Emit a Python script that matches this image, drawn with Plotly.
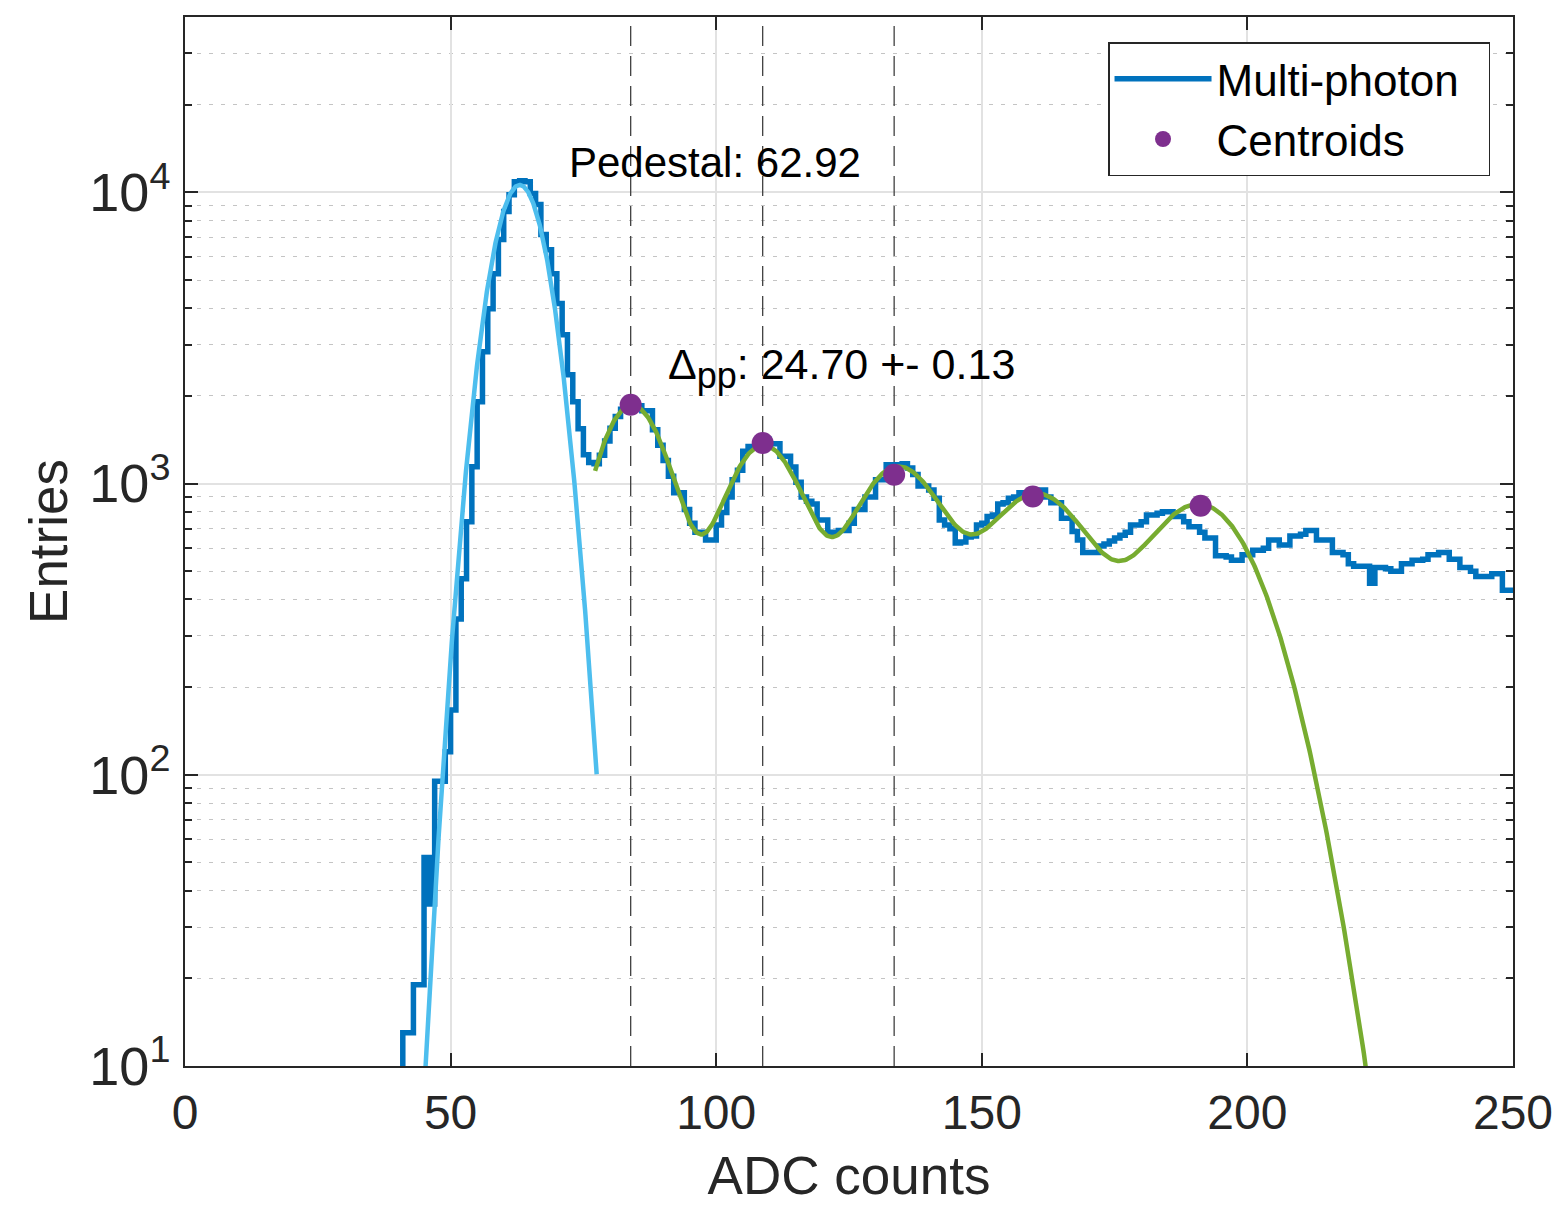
import numpy as np
import plotly.graph_objects as go

# ---------------- data ----------------
bin_start = 38
bin_width = 1
counts = [
    2, 4, 6, 13, 13, 19, 19, 52, 36, 95,            # 38-47
    95, 120, 167, 343, 471, 739, 1142, 1910, 2838, 3985,   # 48-57
    5258, 6883, 8590, 9820, 10880, 10950, 10880, 9900, 9080, 7160,  # 58-67
    6350, 5258, 4150, 3245, 2365, 1910, 1543, 1256, 1180, 1170,     # 68-77
    1250, 1400, 1550, 1700, 1800, 1870, 1880, 1850, 1780, 1780,     # 78-87
    1530, 1355, 1200, 1060, 930, 930, 815, 730, 680, 680,           # 88-97
    640, 640, 720, 795, 900, 1030, 1110, 1290, 1340, 1340,          # 98-107
    1420, 1420, 1370, 1370, 1240, 1240, 1140, 1010, 900, 870,       # 108-117
    850, 750, 750, 680, 680, 690, 690, 730, 815, 815,               # 118-127
    900, 900, 1030, 1030, 1160, 1160, 1160, 1170, 1130, 1075,       # 128-137
    980, 980, 950, 890, 750, 720, 700, 625, 630, 655,               # 138-147
    660, 720, 730, 770, 780, 850, 860, 890, 900, 930,               # 148-157
    930, 940, 950, 950, 900, 860, 860, 760, 760, 685,               # 158-167
    640, 580, 580, 580, 610, 620, 635, 650, 665, 680,               # 168-177
    720, 720, 740, 780, 780, 790, 800, 800, 770, 770,               # 178-187
    740, 710, 710, 680, 650, 650, 565, 565, 560, 545,               # 188-197
    545, 570, 570, 590, 590, 600, 640, 640, 615, 615,               # 198-207
    660, 660, 670, 690, 690, 640, 640, 640, 580, 580,               # 208-217
    570, 530, 520, 520, 520, 455, 515, 515, 510, 500,               # 218-227
    500, 530, 530, 545, 545, 550, 570, 570, 580, 580,               # 228-237
    550, 550, 515, 515, 500, 480, 480, 480, 490, 490,               # 238-247
    430, 430,                                                       # 248-249
]

# pedestal gaussian fit parameters
ped_mu, ped_sigma, ped_amp = 63.0, 4.75, 10600.0
ped_fit_range = (45.0, 77.5)
pedestal_text = "Pedestal: 62.92"

# multi-photon (multi-gaussian) fit parameters
mp_mu = [84.1, 108.8, 134.0, 160.3, 191.0]
mp_sigma = [6.8, 7.3, 8.3, 9.6, 10.5]
mp_amp = [1850.0, 1340.0, 1120.0, 905.0, 845.0]
mp_fit_range = (77.2, 232.0)
dpp_text = "Δ<sub><span style='font-size:36px'>pp</span></sub>: 24.70 +- 0.13"

# centroids
centroid_x = [83.9, 108.75, 133.5, 159.6, 191.2]
centroid_y = [1865, 1377, 1072, 903, 839]
n_marked_peaks = 3

# legend names
hist_name = "Multi-photon\u00a0\u00a0"
centroid_name = "Centroids"

# axes
x_range = [0, 250]
x_ticks = [0, 50, 100, 150, 200, 250]
y_min, y_max = 10, 40000
y_ticks = [10, 100, 1000, 10000]
y_ticktext = ["10<sup>1</sup>", "10<sup>2</sup>", "10<sup>3</sup>", "10<sup>4</sup>"]

# ---------------- build ----------------
edges = [bin_start + i * bin_width for i in range(len(counts) + 1)]
hist_x = edges
hist_y = counts + [counts[-1]]

xp = np.linspace(ped_fit_range[0], ped_fit_range[1], 400)
yp = ped_amp * np.exp(-(xp - ped_mu) ** 2 / (2 * ped_sigma ** 2))

xm = np.linspace(mp_fit_range[0], mp_fit_range[1], 800)
ym = np.zeros_like(xm)
for m, s, a in zip(mp_mu, mp_sigma, mp_amp):
    ym += a * np.exp(-(xm - m) ** 2 / (2 * s ** 2))

FONT = "Liberation Sans, Arial, Helvetica, sans-serif"
AX = "#262626"

fig = go.Figure()

# dashed vertical lines at first peaks
vx, vy = [], []
for c in centroid_x[:n_marked_peaks]:
    vx += [c, c, None]
    vy += [y_min, y_max, None]
fig.add_trace(go.Scatter(x=vx, y=vy, mode="lines", showlegend=False,
                         line=dict(color="#404040", width=1.3, dash="20px,10px"),
                         hoverinfo="skip"))

fig.add_trace(go.Scatter(x=hist_x, y=hist_y, mode="lines", name=hist_name,
                         line=dict(color="#0072BD", width=5.5, shape="hv")))
fig.add_trace(go.Scatter(x=xp, y=yp, mode="lines", showlegend=False,
                         line=dict(color="#4DBEEE", width=4.5)))
fig.add_trace(go.Scatter(x=xm, y=ym, mode="lines", showlegend=False,
                         line=dict(color="#77AC30", width=4.5)))
fig.add_trace(go.Scatter(x=centroid_x, y=centroid_y, mode="markers", name=centroid_name,
                         marker=dict(color="#7E2F8E", size=22)))

fig.add_annotation(x=71.9, y=np.log10(12650), text=pedestal_text, showarrow=False,
                   xanchor="left", yanchor="middle", font=dict(size=42, color="black", family=FONT))
fig.add_annotation(x=90.6, y=np.log10(2500), text=dpp_text, showarrow=False,
                   xanchor="left", yanchor="middle", font=dict(size=43, color="black", family=FONT))

minor_vals = [m * 10 ** e for e in range(1, 5) for m in range(2, 10) if m * 10 ** e < y_max]

fig.update_layout(
    width=1557, height=1205,
    margin=dict(l=185, r=44, t=17, b=139, autoexpand=False),
    paper_bgcolor="white", plot_bgcolor="white",
    font=dict(family=FONT, color=AX),
    legend=dict(x=0.9827, y=0.976, xanchor="right", yanchor="top",
                bgcolor="white", bordercolor=AX, borderwidth=1.5,
                font=dict(size=44, color="black", family=FONT),
                itemwidth=97, tracegroupgap=0),
    xaxis=dict(range=x_range, tickvals=x_ticks, ticks="inside", ticklen=13, tickwidth=1.5,
               tickcolor=AX, showline=True, linecolor=AX, linewidth=1.5, mirror="ticks",
               showgrid=True, gridcolor="#e2e2e2", gridwidth=1.5, zeroline=False,
               automargin=False,
               tickfont=dict(size=48, color=AX), ticklabelstandoff=4,
               title=dict(text="ADC counts", font=dict(size=53, color=AX), standoff=22)),
    yaxis=dict(type="log", range=[np.log10(y_min), np.log10(y_max)],
               tickvals=y_ticks, ticktext=y_ticktext, ticks="inside", ticklen=13, tickwidth=1.5,
               tickcolor=AX, showline=True, linecolor=AX, linewidth=1.5, mirror="ticks",
               showgrid=True, gridcolor="#e2e2e2", gridwidth=1.5, zeroline=False,
               automargin=False,
               tickfont=dict(size=54, color=AX), ticklabelstandoff=2,
               minor=dict(tickvals=minor_vals, ticks="inside", ticklen=7, tickcolor=AX,
                          showgrid=True, gridcolor="#c4c4c4", gridwidth=1.2, griddash="4px,8px"),
               title=dict(text="Entries", font=dict(size=53, color=AX), standoff=5)),
)

fig.write_html("out.html")
